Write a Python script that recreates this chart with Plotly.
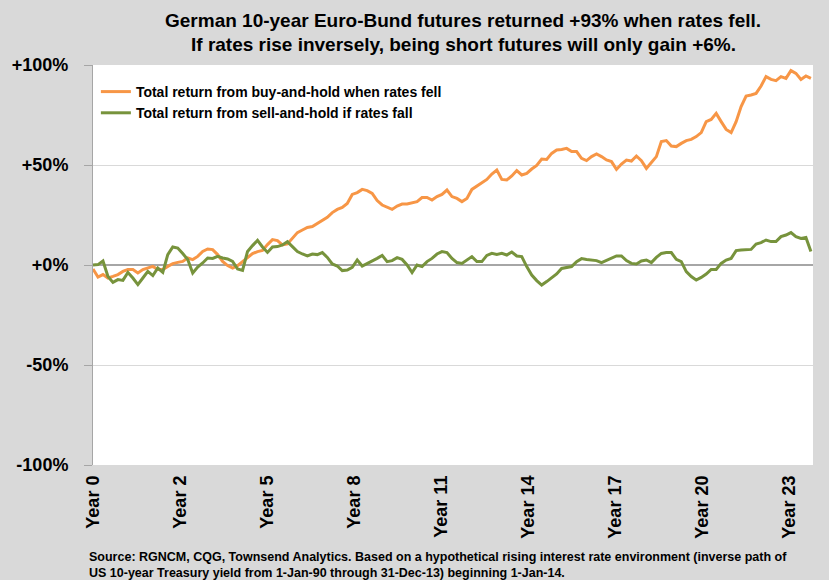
import plotly.graph_objects as go

# Values read every 1/6 year (Year 0 .. Year 24)
buy_hold = [
    -2.0, -6.0, -4.8, -6.5, -5.7, -4.8, -3.2, -2.3, -2.3, -4.0, -2.3, -1.5, -0.7, -2.3, -2.3, -0.7,
    0.7, 1.3, 1.8, 3.5, 2.7, 4.3, 6.8, 8.0, 7.7, 5.2, 1.8, -0.3, -1.5, -0.3, 1.8, 4.0, 5.7, 6.7, 7.3, 10.2,
    12.7,
    12.2, 10.0, 10.5, 13.3, 16.2, 17.5, 18.8, 19.2, 20.8, 22.0, 23.8, 26.2, 27.8, 28.8, 30.8, 35.3, 36.2,
    37.8, 37.2, 35.8, 32.2, 30.0, 28.8, 27.8, 29.5, 30.5, 30.5, 31.2, 31.7, 33.7, 33.8, 32.5, 34.2, 35.3,
    37.5, 34.2,
    33.3, 31.7, 33.3, 37.8, 39.5, 41.2, 42.8, 45.5, 47.5, 42.8, 42.5, 44.5, 47.2, 45.0, 45.8, 48.0, 49.8,
    53.0, 52.8, 55.8, 57.5, 57.8, 58.3, 56.7, 56.7, 53.3, 52.2, 54.2, 55.5, 54.2, 52.5, 51.7, 47.8, 50.5,
    52.5, 52.0,
    54.5, 52.2, 48.3, 51.2, 54.2, 61.7, 62.2, 59.5, 59.2, 60.8, 62.2, 62.8, 64.2, 66.2, 71.7, 72.8, 75.8,
    71.7, 67.8, 66.2, 71.7, 79.2, 84.5, 85.0, 85.8, 89.5, 94.2, 92.8, 92.2, 94.2, 93.3, 97.2, 95.8, 92.8,
    94.5, 93.3,
]
sell_hold = [
    0.0, 0.2, 2.0, -5.7, -8.7, -7.3, -7.7, -3.7, -6.5, -9.8, -6.5, -3.2, -5.3, -1.5, -3.7, 5.2,
    9.0, 8.5, 5.7, 2.7, -4.0, -1.0, 1.0, 3.5, 3.3, 4.3, 3.5, 3.0, 1.8, -2.0, -2.7, 6.8, 9.7, 12.3, 9.0, 6.3,
    9.0,
    9.2, 10.0, 11.7, 9.2, 6.7, 5.5, 4.5, 5.5, 5.2, 6.2, 3.8, 0.5, -0.5, -2.8, -2.5, -1.2, 2.5, -0.5, 0.8,
    1.7, 3.3, 4.8, 1.7, 2.2, 3.7, 2.8, 0.0, -3.8, 0.0, -0.8, 1.7, 3.3, 5.5, 6.7, 6.2, 3.3,
    1.2, 0.8, 2.5, 4.2, 1.7, 1.7, 4.8, 5.8, 5.3, 5.8, 5.0, 6.5, 4.5, 4.2, -0.8, -5.0, -7.8, -10.0, -8.3,
    -6.3, -4.5, -1.7, -1.2, -0.8, 1.7, 3.2, 2.8, 2.5, 2.2, 1.2, 2.2, 3.3, 4.5, 4.5, 2.2, 0.8,
    0.5, 2.0, 2.5, 1.2, 3.8, 5.8, 6.2, 6.2, 2.8, 1.7, -3.3, -5.8, -7.5, -6.2, -4.5, -2.2, -2.2, 0.8, 2.5,
    3.3, 7.2, 7.5, 7.5, 7.8, 10.5, 11.2, 12.5, 11.7, 11.7, 14.2, 15.0, 16.2, 14.2, 13.3, 13.8, 6.7,
]
years = [k / 6 for k in range(len(buy_hold))]

x_tick_labels = ["Year 0", "Year 2", "Year 5", "Year 8", "Year 11", "Year 14", "Year 17", "Year 20", "Year 23"]
y_tick_values = [100, 50, 0, -50, -100]
y_tick_labels = ["+100%", "+50%", "+0%", "-50%", "-100%"]

series_names = ["Total return from buy-and-hold when rates fell",
                "Total return from sell-and-hold if rates fall"]
title_lines = ["German 10-year Euro-Bund futures returned +93% when rates fell.",
               "If rates rise inversely, being short futures will only gain +6%."]
source_lines = ["Source: RGNCM, CQG, Townsend Analytics. Based on a hypothetical rising interest rate environment (inverse path of",
                "US 10-year Treasury yield from 1-Jan-90 through 31-Dec-13) beginning 1-Jan-14."]

TICK_STEP = 2.91
x_tick_vals = [i * TICK_STEP for i in range(len(x_tick_labels))]

FONT = "Liberation Sans, Arial, sans-serif"

fig = go.Figure()
fig.add_trace(go.Scatter(x=years, y=buy_hold, mode="lines", name=series_names[0],
                         line=dict(color="#F79646", width=3)))
fig.add_trace(go.Scatter(x=years, y=sell_hold, mode="lines", name=series_names[1],
                         line=dict(color="#77933C", width=3)))

fig.update_layout(
    width=829, height=580,
    margin=dict(l=91, r=16, t=65, b=115),
    paper_bgcolor="#d9d9d9", plot_bgcolor="#ffffff",
    showlegend=True,
    legend=dict(x=0.004, y=0.9725, xanchor="left", yanchor="top", bgcolor="rgba(0,0,0,0)",
                font=dict(family=FONT, size=14, color="#000000", weight="bold"), tracegroupgap=0),
    xaxis=dict(range=[0, 24.07], tickmode="array", tickvals=x_tick_vals, ticktext=x_tick_labels,
               tickangle=-90, showgrid=False, zeroline=False, showline=False, ticks="",
               ticklabelstandoff=6,
               tickfont=dict(family=FONT, size=18, color="#000000", weight="bold")),
    yaxis=dict(range=[-100, 100], tickmode="array", tickvals=y_tick_values, ticktext=y_tick_labels,
               showgrid=True, gridcolor="#d9d9d9", gridwidth=1,
               zeroline=True, zerolinecolor="#a6a6a6", zerolinewidth=1.5,
               showline=True, linecolor="#a6a6a6", linewidth=1,
               ticks="outside", ticklen=8, tickcolor="#a6a6a6", ticklabelstandoff=12,
               tickfont=dict(family=FONT, size=18, color="#000000", weight="bold")),
)

for i, txt in enumerate(title_lines):
    fig.add_annotation(text=txt, xref="paper", yref="paper", x=0.514, y=1.11 - 0.06 * i,
                       xanchor="center", yanchor="middle", showarrow=False,
                       font=dict(family=FONT, size=19, color="#000000", weight="bold"))
for i, txt in enumerate(source_lines):
    fig.add_annotation(text=txt, xref="paper", yref="paper", x=-0.009, y=-0.23 - 0.04 * i,
                       xanchor="left", yanchor="middle", showarrow=False,
                       font=dict(family=FONT, size=12.5, color="#000000", weight="bold"))

fig.write_html("out.html", config={"displayModeBar": False},
               post_script="document.body.style.margin='0';document.body.style.background='#d9d9d9';")
